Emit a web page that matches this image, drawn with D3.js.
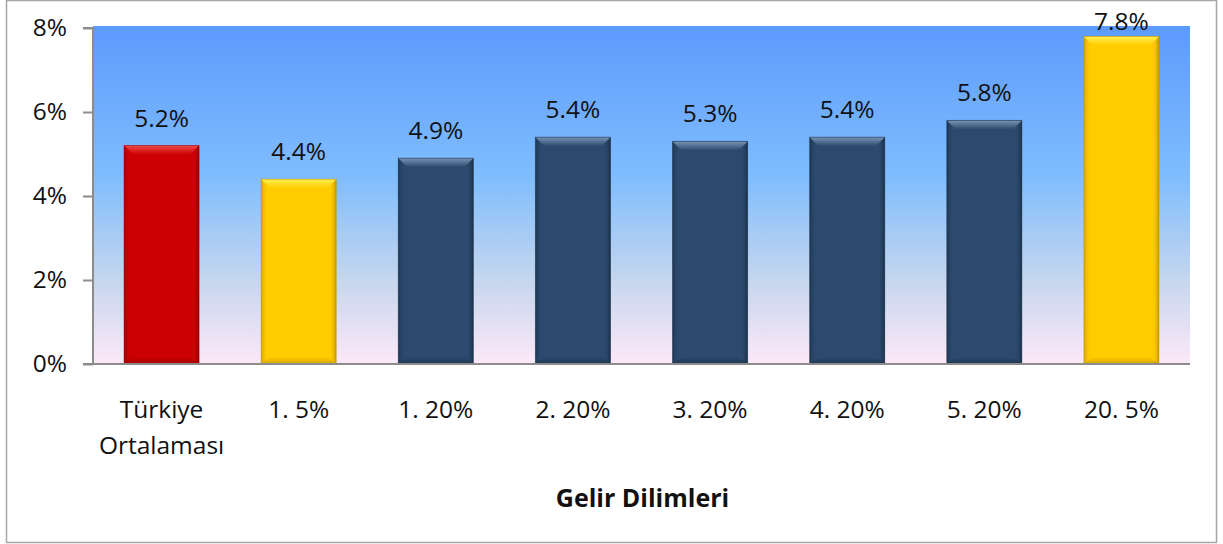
<!DOCTYPE html>
<html>
<head>
<meta charset="utf-8">
<script src="https://cdn.jsdelivr.net/npm/d3@7/dist/d3.min.js"></script>
<style>
  html, body { margin: 0; padding: 0; background: #fff; }
  svg { display: block; font-family: "Open Sans", Lato, sans-serif; }
</style>
</head>
<body>
<svg id="chart" width="1223" height="544"></svg>
<script>
// Income group categories (two-line first label)
const categories = ["Türkiye\nOrtalaması", "1. 5%", "1. 20%", "2. 20%", "3. 20%", "4. 20%", "5. 20%", "20. 5%"];
// Share values in percent
const values = [5.2, 4.4, 4.9, 5.4, 5.3, 5.4, 5.8, 7.8];
// Fill style per bar: average, top/bottom 5%, quintiles
const barKinds = ["red", "gold", "navy", "navy", "navy", "navy", "navy", "gold"];
const yTicks = [0, 2, 4, 6, 8];
const axisTitle = "Gelir Dilimleri";

const palette = {
  red:  { base: "#CC0000", light: "#F04848", dark: "#8A0000" },
  gold: { base: "#FFCC00", light: "#FFF050", dark: "#B88A00" },
  navy: { base: "#2B4A6E", light: "#7A95B5", dark: "#172A40" }
};

const FONT = 24.5;
const svg = d3.select("#chart");
const plot = { left: 93, right: 1190, top: 26, bottom: 364 };

// outer frame
svg.append("rect")
  .attr("x", 6.5).attr("y", 0.5).attr("width", 1210).attr("height", 542)
  .attr("fill", "#fff").attr("stroke", "#A6A6A6").attr("stroke-width", 1.5);

const defs = svg.append("defs");
const bg = defs.append("linearGradient").attr("id", "bgGrad")
  .attr("x1", 0).attr("y1", 0).attr("x2", 0).attr("y2", 1);
bg.append("stop").attr("offset", "0%").attr("stop-color", "#5C9BFD");
bg.append("stop").attr("offset", "45%").attr("stop-color", "#80BDFD");
bg.append("stop").attr("offset", "75%").attr("stop-color", "#C5D6EE");
bg.append("stop").attr("offset", "100%").attr("stop-color", "#FCE9F8");

// shading for each bar colour
Object.entries(palette).forEach(([k, c]) => {
  const g = defs.append("linearGradient").attr("id", "side-" + k)
    .attr("x1", 0).attr("y1", 0).attr("x2", 1).attr("y2", 0);
  g.append("stop").attr("offset", "0%").attr("stop-color", c.dark).attr("stop-opacity", 0.6);
  g.append("stop").attr("offset", "9%").attr("stop-color", c.base).attr("stop-opacity", 0);
  g.append("stop").attr("offset", "91%").attr("stop-color", c.base).attr("stop-opacity", 0);
  g.append("stop").attr("offset", "100%").attr("stop-color", c.dark).attr("stop-opacity", 0.8);
  const t = defs.append("linearGradient").attr("id", "top-" + k)
    .attr("x1", 0).attr("y1", 0).attr("x2", 0).attr("y2", 1);
  t.append("stop").attr("offset", "0%").attr("stop-color", c.light);
  t.append("stop").attr("offset", "100%").attr("stop-color", c.base);
  const b = defs.append("linearGradient").attr("id", "bot-" + k)
    .attr("x1", 0).attr("y1", 0).attr("x2", 0).attr("y2", 1);
  b.append("stop").attr("offset", "0%").attr("stop-color", c.dark).attr("stop-opacity", 0);
  b.append("stop").attr("offset", "100%").attr("stop-color", c.dark).attr("stop-opacity", 0.6);
});

svg.append("rect")
  .attr("x", plot.left).attr("y", plot.top)
  .attr("width", plot.right - plot.left).attr("height", plot.bottom - plot.top)
  .attr("fill", "url(#bgGrad)");

const x = d3.scaleBand().domain(categories).range([plot.left, plot.right]).paddingInner(0.453).paddingOuter(0.2265);
const y = d3.scaleLinear().domain([0, 8]).range([plot.bottom, 28]);

// bars with bevelled faces
const bars = svg.append("g").selectAll("g").data(values).join("g");
bars.each(function(v, i) {
  const g = d3.select(this);
  const k = barKinds[i], c = palette[k];
  const x0 = x(categories[i]), w = x.bandwidth();
  const y0 = y(v), h = y(0) - y(v);
  const bev = 9;
  g.append("rect").attr("x", x0).attr("y", y0).attr("width", w).attr("height", h).attr("fill", c.base);
  g.append("rect").attr("x", x0).attr("y", y0).attr("width", w).attr("height", h).attr("fill", `url(#side-${k})`);
  g.append("path")
    .attr("d", `M${x0},${y0 + h} L${x0 + bev},${y0 + h - 7} L${x0 + w - bev},${y0 + h - 7} L${x0 + w},${y0 + h} Z`)
    .attr("fill", `url(#bot-${k})`);
  g.append("path")
    .attr("d", `M${x0},${y0} L${x0 + w},${y0} L${x0 + w - bev},${y0 + bev} L${x0 + bev},${y0 + bev} Z`)
    .attr("fill", `url(#top-${k})`);
  g.append("rect").attr("x", x0).attr("y", y0).attr("width", w).attr("height", h)
    .attr("fill", "none").attr("stroke", c.dark).attr("stroke-opacity", 0.45).attr("stroke-width", 1);
});

// value labels (kept inside the chart area at the top)
svg.append("g").selectAll("text").data(values).join("text")
  .attr("x", (d, i) => x(categories[i]) + x.bandwidth() / 2)
  .attr("y", d => Math.max(y(d) - 19, 30))
  .attr("text-anchor", "middle")
  .attr("font-size", FONT).attr("fill", "#111")
  .text(d => d.toFixed(1) + "%");

// y axis
const yAxis = d3.axisLeft(y).tickValues(yTicks).tickFormat(d => d + "%").tickSize(10).tickPadding(16);
const ya = svg.append("g").attr("transform", `translate(${plot.left},0)`).call(yAxis);
ya.select(".domain").attr("stroke", "#8C8C8C").attr("stroke-width", 2).attr("d", `M-10,${y(8)}H0V${plot.bottom}`);
ya.selectAll(".tick line").attr("stroke", "#8C8C8C").attr("stroke-width", 2);
ya.selectAll(".tick text").attr("font-size", FONT).attr("fill", "#111").attr("font-family", "'Open Sans', Lato, sans-serif");

// x axis
const xAxis = d3.axisBottom(x).tickSize(0).tickFormat("");
const xa = svg.append("g").attr("transform", `translate(0,${plot.bottom})`).call(xAxis);
xa.select(".domain").attr("stroke", "#8C8C8C").attr("stroke-width", 2).attr("d", `M${plot.left - 10},0H${plot.right}`);

// category labels
const cat = svg.append("g").selectAll("text").data(categories).join("text")
  .attr("x", d => x(d) + x.bandwidth() / 2)
  .attr("y", 418)
  .attr("text-anchor", "middle")
  .attr("font-size", FONT).attr("fill", "#111");
cat.each(function(d) {
  const lines = d.split("\n");
  d3.select(this).selectAll("tspan").data(lines).join("tspan")
    .attr("x", x(d) + x.bandwidth() / 2)
    .attr("dy", (l, j) => j === 0 ? 0 : 36)
    .text(l => l);
});

// axis title
svg.append("text")
  .attr("x", (plot.left + plot.right) / 2 + 1).attr("y", 507)
  .attr("text-anchor", "middle").attr("font-size", 25).attr("font-weight", "bold").attr("fill", "#111")
  .text(axisTitle);
</script>
</body>
</html>
